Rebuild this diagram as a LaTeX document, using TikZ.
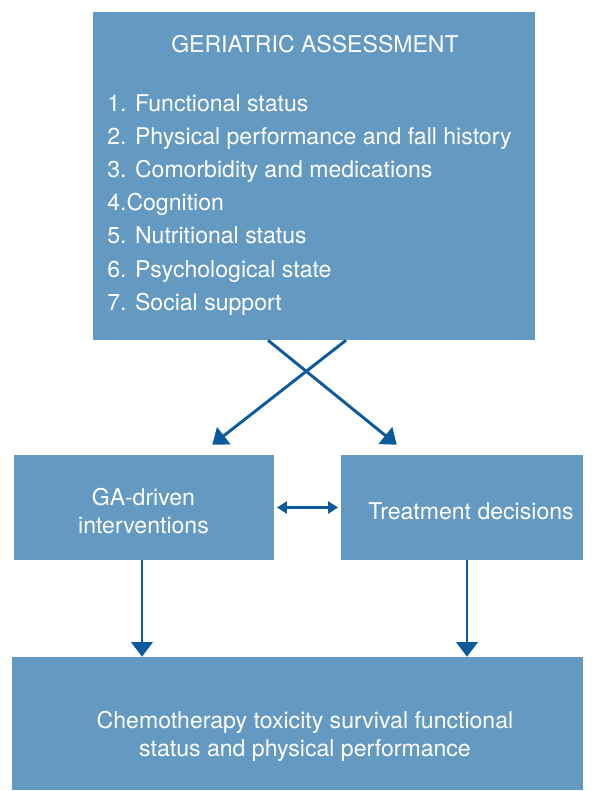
\documentclass[tikz,border=0pt]{standalone}
\usepackage{fontspec}
\setmainfont{TeX Gyre Heros}
\usetikzlibrary{arrows.meta}
\definecolor{boxblue}{HTML}{6499C2}
\definecolor{arrowblue}{HTML}{0B5A9C}

\begin{document}
\begin{tikzpicture}[x=0.75pt, y=-0.75pt,
    box/.style={fill=boxblue, inner sep=0pt},
    lbl/.style={text=white, align=center, inner sep=0pt, font=\fontsize{17.3}{21}\selectfont},
    arr/.style={arrowblue, line width=2.2pt, -{Triangle[length=11pt, width=16pt]}},
    both/.style={arrowblue, line width=2pt, {Triangle[length=7.5pt, width=9pt]}-{Triangle[length=7.5pt, width=9pt]}}]
    \useasboundingbox (0,0) rectangle (596,791);

    \node[box, minimum width=331.5pt, minimum height=246pt] (ga) at (314,176) {};
    \node[box, minimum width=195pt, minimum height=78.75pt] (inter) at (144,507.5) {};
    \node[box, minimum width=181.5pt, minimum height=78.75pt] (treat) at (462,507.5) {};
    \node[box, minimum width=428.25pt, minimum height=99.75pt] (out) at (297.5,723.5) {};

    \node[lbl, anchor=base] (title) at (315,53) {GERIATRIC ASSESSMENT};
    \foreach \txt [count=\i] in {1. Functional status, 2. Physical performance and fall history,
        3. Comorbidity and medications, 4.Cognition, 5. Nutritional status,
        6. Psychological state, 7. Social support}
        \node[lbl, anchor=base west] (item\i) at (107,{112+33*(\i-1)}) {\txt};
    \node[lbl] (intertext) at (143.5,511) {GA-driven\\interventions};
    \node[lbl] (treattext) at (471,511) {Treatment decisions};
    \node[lbl] (outtext) at (305,736) {Chemotherapy toxicity survival functional\\status and physical performance};

    \draw[arr] ([xshift=-34.5pt]ga.south) -- ([xshift=42pt, yshift=7.5pt]treat.north west);
    \draw[arr] ([xshift=24pt]ga.south) -- ([xshift=-46.5pt, yshift=7.5pt]inter.north east);
    \draw[both] ([xshift=2pt]inter.east) -- ([xshift=-2pt]treat.west);
    \draw[arr] ([xshift=-1.5pt]inter.south) -- ([xshift=-1.5pt]inter.south |- out.north);
    \draw[arr] ([xshift=3.75pt]treat.south) -- ([xshift=3.75pt]treat.south |- out.north);
\end{tikzpicture}
\end{document}
